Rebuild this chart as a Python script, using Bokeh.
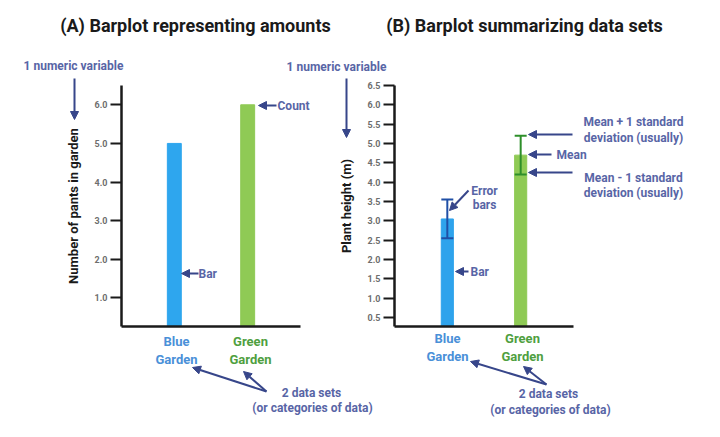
from bokeh.plotting import figure
from bokeh.layouts import row, column
from bokeh.models import (Range1d, FactorRange, FixedTicker, PrintfTickFormatter,
                          Label, Arrow, NormalHead)
from bokeh.embed import file_html
from bokeh.resources import INLINE

# ---------------- data ----------------
categories = ["Blue Garden", "Green Garden"]
category_labels = ["Blue\nGarden", "Green\nGarden"]
category_colors = ["#4a90d8", "#4f9f40"]

# (A) amounts
plants_count = [5.0, 6.0]
a_bar_colors = ["#2ea6ee", "#8fca55"]
a_ticks = [1.0, 2.0, 3.0, 4.0, 5.0, 6.0]

# (B) summary (mean +/- 1 sd)
height_mean = [3.05, 4.7]
height_sd = [0.5, 0.5]
b_bar_colors = ["#2ea3ec", "#8fca55"]
b_err_colors = ["#1f4fa6", "#2e8f2a"]
b_ticks = [0.5, 1.0, 1.5, 2.0, 2.5, 3.0, 3.5, 4.0, 4.5, 5.0, 5.5, 6.0, 6.5]

FONT = "Roboto"
ANN_TEXT = "#5865a6"
ANN_LINE = "#37468a"
W, H = 720, 437


def style_axes(p, ticks, ylabel):
    p.xaxis.ticker = FixedTicker(ticks=[])
    p.xaxis.major_tick_line_color = None
    p.xaxis.minor_tick_line_color = None
    p.xaxis.axis_line_width = 2.5
    p.xaxis.axis_line_color = "#1a1a1a"
    p.yaxis.ticker = FixedTicker(ticks=ticks)
    p.yaxis.formatter = PrintfTickFormatter(format="%.1f")
    p.yaxis.axis_line_width = 2.5
    p.yaxis.axis_line_color = "#1a1a1a"
    p.yaxis.major_tick_line_width = 2
    p.yaxis.major_tick_line_color = "#1a1a1a"
    p.yaxis.major_tick_in = 0
    p.yaxis.major_tick_out = 11
    p.yaxis.minor_tick_line_color = None
    p.yaxis.major_label_standoff = 3
    p.yaxis.major_label_text_font = FONT
    p.yaxis.major_label_text_font_size = "9px"
    p.yaxis.major_label_text_font_style = "bold"
    p.yaxis.major_label_text_color = "#6e6e6e"
    p.yaxis.axis_label = ylabel
    p.yaxis.axis_label_text_font = FONT
    p.yaxis.axis_label_text_font_size = "13px"
    p.yaxis.axis_label_text_font_style = "bold"
    p.yaxis.axis_label_text_color = "#1a1a1a"
    p.yaxis.axis_label_standoff = 11
    p.xgrid.grid_line_color = None
    p.ygrid.grid_line_color = None
    p.outline_line_color = None


# ---------------- (A) ----------------
WA = 332
pA = figure(width=WA, height=H, x_range=FactorRange(*categories, range_padding=0.22,
                                                    range_padding_units="absolute"),
            y_range=Range1d(0.26, 6.5), output_backend="svg", toolbar_location=None,
            title=None, min_border_left=121, min_border_right=WA - 300,
            min_border_top=85, min_border_bottom=H - 327)
style_axes(pA, a_ticks, "Number of pants in garden")
pA.vbar(x=categories, top=plants_count, bottom=0, width=0.19, color=a_bar_colors)

# ---------------- (B) ----------------
WB = W - WA
pB = figure(width=WB, height=H, x_range=FactorRange(*categories, range_padding=0.22,
                                                    range_padding_units="absolute"),
            y_range=Range1d(0.27, 6.5), output_backend="svg", toolbar_location=None,
            title=None, min_border_left=394 - WA, min_border_right=W - 573,
            min_border_top=85, min_border_bottom=H - 326)
style_axes(pB, b_ticks, "Plant height (m)")
lower = [m - s for m, s in zip(height_mean, height_sd)]
upper = [m + s for m, s in zip(height_mean, height_sd)]
pB.vbar(x=categories, top=height_mean, bottom=0, width=0.165, color=b_bar_colors)
pB.segment(x0=categories, y0=lower, x1=categories, y1=upper, line_color=b_err_colors, line_width=2)
pB.dash(x=categories, y=upper, size=12, line_color=b_err_colors, line_width=2)
pB.dash(x=categories, y=lower, size=12, line_color=b_err_colors, line_width=2)

# ---------------- annotation overlay (pixel space of the page) ----------------
ov = figure(width=W, height=H, x_range=Range1d(0, W), y_range=Range1d(H, 0),
            output_backend="svg", toolbar_location=None, title=None,
            x_axis_location=None, y_axis_location=None,
            min_border=0, border_fill_alpha=0, background_fill_alpha=0)
ov.grid.grid_line_color = None
ov.outline_line_color = None
ov.margin = (-H, 0, 0, 0)


def txt(x, y, text, size="12px", align="center", color=ANN_TEXT, style="bold",
        baseline="middle"):
    ov.add_layout(Label(x=x, y=y, text=text, text_font=FONT, text_font_size=size,
                        text_align=align, text_baseline=baseline, text_color=color,
                        text_font_style=style, text_line_height=1.2))


def arrow(x0, y0, x1, y1):
    ov.add_layout(Arrow(x_start=x0, y_start=y0, x_end=x1, y_end=y1,
                        line_color=ANN_LINE, line_width=2,
                        end=NormalHead(size=8, fill_color=ANN_LINE, line_color=ANN_LINE)))


# (A)
txt(195, 25, "(A) Barplot representing amounts", size="18px", color="#1a1a1a")
txt(73, 65, "1 numeric variable")
arrow(74, 78, 74, 119)
arrow(276, 105, 258, 105)
txt(277, 105, "Count", align="left")
arrow(198, 273, 181, 273)
txt(198, 273, "Bar", align="left")
for cx, lab, col in zip([176, 250], category_labels, category_colors):
    txt(cx, 333, lab, size="13px", color=col, baseline="top")
arrow(266, 391, 192, 367)
arrow(266, 391, 243, 371)
txt(311, 392, "2 data sets")
txt(312, 407, "(or categories of data)")

# (B)
txt(524, 25, "(B) Barplot summarizing data sets", size="18px", color="#1a1a1a")
txt(336, 66, "1 numeric variable")
arrow(346, 78, 346, 137)
txt(633, 121, "Mean + 1 standard")
txt(633, 137, "deviation (usually)")
arrow(572, 134, 528, 134)
arrow(551, 154, 528, 154)
txt(556, 154, "Mean", align="left")
txt(633, 177, "Mean - 1 standard")
txt(633, 192, "deviation (usually)")
arrow(572, 172, 528, 172)
txt(484, 190, "Error")
txt(484, 204, "bars")
arrow(468, 190, 449, 210)
arrow(468, 271, 455, 271)
txt(470, 271, "Bar", align="left")
for cx, lab, col in zip([447, 522], category_labels, category_colors):
    txt(cx, 330, lab, size="13px", color=col, baseline="top")
arrow(546, 384, 470, 361)
arrow(546, 384, 523, 366)
txt(548, 393, "2 data sets")
txt(550, 409, "(or categories of data)")

layout = column(row(pA, pB), ov)
open("out.html", "w").write(file_html(layout, INLINE))
